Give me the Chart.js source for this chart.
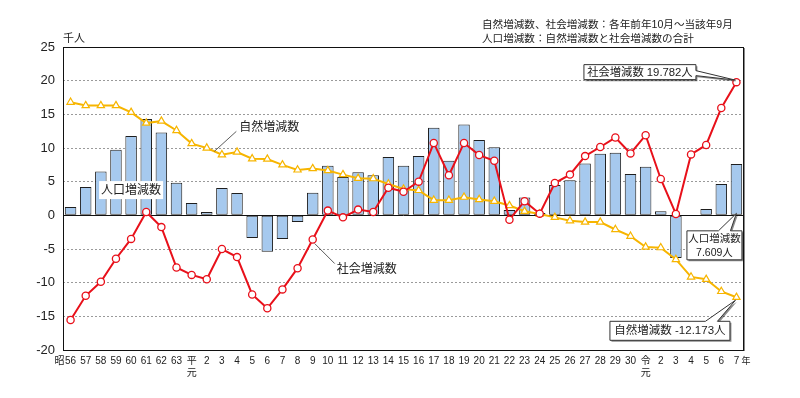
<!DOCTYPE html>
<html>
<head>
<meta charset="utf-8">
<script src="https://cdn.jsdelivr.net/npm/chart.js@4"></script>
<style>
html,body{margin:0;padding:0;background:#fff;}
#wrap{width:800px;height:398px;position:relative;}
</style>
</head>
<body>
<div id="wrap"><canvas id="c"></canvas></div>
<script>
const categories = ['56','57','58','59','60','61','62','63',['平','元'],
  '2','3','4','5','6','7','8','9','10','11','12','13','14','15','16','17','18','19','20',
  '21','22','23','24','25','26','27','28','29','30',['令','元'],'2','3','4','5','6','7'];

const totalChange = [1.25,4.2,6.5,9.75,11.8,14.3,12.3,4.85,1.85,0.5,
  4.05,3.3,-3.35,-5.4,-3.5,-1.0,3.35,7.35,5.7,6.4,
  5.95,8.65,7.35,8.8,13.0,8.1,13.5,11.2,10.1,0.8,
  2.65,0.35,4.5,5.2,7.7,9.15,9.3,6.15,7.2,0.6,
  -6.35,-0.1,0.95,4.65,7.609];

const naturalChange = [16.8,16.3,16.3,16.3,15.3,13.7,14.0,12.6,10.65,10.0,
  9.0,9.4,8.4,8.35,7.5,6.75,6.95,6.65,6.05,5.5,
  5.45,4.65,3.9,3.7,2.25,2.25,2.7,2.35,2.1,1.45,
  0.6,0.2,-0.3,-0.8,-1.0,-1.0,-2.1,-3.1,-4.7,-4.8,
  -6.55,-9.15,-9.5,-11.3,-12.173];

const socialChange = [-15.55,-11.95,-9.87,-6.45,-3.5,0.5,-1.75,-7.75,-8.85,-9.5,
  -5.0,-6.2,-11.75,-13.8,-11.0,-7.85,-3.6,0.7,-0.3,0.85,
  0.5,4.1,3.5,5.0,10.75,5.95,10.75,8.95,8.1,-0.65,
  2.1,0.25,4.8,6.05,8.8,10.15,11.55,9.2,11.9,5.4,
  0.2,9.05,10.45,15.95,19.782];

const yTicks = [-20,-15,-10,-5,0,5,10,15,20,25];

const FONT = "'Liberation Sans','Noto Sans CJK JP',sans-serif";
Chart.defaults.font.family = FONT;
Chart.defaults.color = '#222';

const RED = '#e8101a';
const ORANGE = '#f7b500';

function calloutPath(ctx, b, anchor, side, p1, p2) {
  ctx.beginPath();
  if (side === 'right') {
    ctx.moveTo(b.x, b.y);
    ctx.lineTo(b.x + b.w, b.y);
    ctx.lineTo(b.x + b.w, p1);
    ctx.lineTo(anchor.x, anchor.y);
    ctx.lineTo(b.x + b.w, p2);
    ctx.lineTo(b.x + b.w, b.y + b.h);
    ctx.lineTo(b.x, b.y + b.h);
  } else {
    ctx.moveTo(b.x, b.y);
    ctx.lineTo(p1, b.y);
    ctx.lineTo(anchor.x, anchor.y);
    ctx.lineTo(p2, b.y);
    ctx.lineTo(b.x + b.w, b.y);
    ctx.lineTo(b.x + b.w, b.y + b.h);
    ctx.lineTo(b.x, b.y + b.h);
  }
  ctx.closePath();
}

function drawCallout(ctx, b, anchor, side, p1, p2, lines, size) {
  ctx.save();
  ctx.shadowColor = 'rgba(0,0,0,0.45)';
  ctx.shadowOffsetX = 1.5;
  ctx.shadowOffsetY = 1.5;
  ctx.shadowBlur = 0;
  calloutPath(ctx, b, anchor, side, p1, p2);
  ctx.fillStyle = '#fff';
  ctx.fill();
  ctx.restore();
  ctx.save();
  calloutPath(ctx, b, anchor, side, p1, p2);
  ctx.strokeStyle = '#333';
  ctx.lineWidth = 1;
  ctx.stroke();
  ctx.fillStyle = '#222';
  ctx.font = size + 'px ' + FONT;
  ctx.textAlign = 'center';
  ctx.textBaseline = 'middle';
  const lh = 14;
  const cy = b.y + b.h / 2 - (lines.length - 1) * lh / 2;
  lines.forEach((t, i) => ctx.fillText(t, b.x + b.w / 2, cy + i * lh + 0.5));
  ctx.restore();
}

const framePlugin = {
  id: 'frame',
  beforeDatasetsDraw(chart) {
    const {ctx, chartArea: a, scales: {y}} = chart;
    ctx.save();
    ctx.strokeStyle = '#111';
    ctx.lineWidth = 1;
    const y0 = Math.round(y.getPixelForValue(0)) + 0.5;
    ctx.beginPath();
    ctx.moveTo(a.left, y0);
    ctx.lineTo(a.right, y0);
    ctx.stroke();
    ctx.restore();
  },
  afterDatasetsDraw(chart) {
    const {ctx, chartArea: a, scales: {x, y}} = chart;
    ctx.save();
    ctx.strokeStyle = '#111';
    ctx.lineWidth = 1;
    ctx.strokeRect(Math.round(a.left) + 0.5, Math.round(a.top) + 0.5,
      Math.round(a.right - a.left) - 1, Math.round(a.bottom - a.top));
    ctx.strokeStyle = '#888';
    ctx.beginPath();
    ctx.moveTo(Math.round(a.right) + 0.5, a.top + 1);
    ctx.lineTo(Math.round(a.right) + 0.5, a.bottom + 1);
    ctx.stroke();

    const n = categories.length - 1;
    ctx.fillStyle = '#222';
    ctx.textBaseline = 'middle';
    ctx.textAlign = 'left';
    ctx.font = '10.6px ' + FONT;
    ctx.fillText('自然増減数、社会増減数：各年前年10月～当該年9月', 482, 25);
    ctx.fillText('人口増減数：自然増減数と社会増減数の合計', 482, 39);
    ctx.font = '11px ' + FONT;
    ctx.fillText('千人', a.left, 39);

    ctx.font = '10px ' + FONT;
    ctx.textAlign = 'right';
    ctx.fillText('昭', x.getPixelForValue(0) - 6, 361);
    ctx.textAlign = 'left';
    ctx.font = '9px ' + FONT;
    ctx.fillText('年', x.getPixelForValue(n) + 5, 362);

    ctx.font = '12px ' + FONT;
    ctx.strokeStyle = '#333';
    ctx.lineWidth = 0.8;
    const nx = (x.getPixelForValue(9) + x.getPixelForValue(10)) / 2;
    const ny = (y.getPixelForValue(naturalChange[9]) + y.getPixelForValue(naturalChange[10])) / 2;
    ctx.beginPath(); ctx.moveTo(nx, ny); ctx.lineTo(nx + 22, ny - 20); ctx.stroke();
    ctx.textAlign = 'left';
    ctx.fillText('自然増減数', nx + 25, ny - 24);
    const sx = x.getPixelForValue(16), sy = y.getPixelForValue(socialChange[16]);
    ctx.beginPath(); ctx.moveTo(sx + 2, sy + 4); ctx.lineTo(sx + 22, sy + 24); ctx.stroke();
    ctx.fillText('社会増減数', sx + 24, sy + 30);
    const tx = x.getPixelForValue(4);
    const ty = y.getPixelForValue(3.75);
    ctx.fillStyle = '#fff';
    ctx.fillRect(tx - 32, ty - 9, 64, 18);
    ctx.fillStyle = '#222';
    ctx.textAlign = 'center';
    ctx.fillText('人口増減数', tx, ty + 0.5);

    const lx = x.getPixelForValue(n);
    const sA = {x: lx, y: y.getPixelForValue(socialChange[n])};
    drawCallout(ctx, {x: lx - 152.5, y: sA.y - 17.5, w: 112, h: 15}, {x: sA.x - 1, y: sA.y - 2}, 'right',
      sA.y - 11.5, sA.y - 6.5, ['社会増減数 19.782人'], 11.3);
    const tA = {x: lx, y: y.getPixelForValue(0) - 2};
    drawCallout(ctx, {x: lx - 49.5, y: tA.y + 17.5, w: 55, h: 29}, tA, 'top',
      lx - 18, lx - 6, ['人口増減数', '7.609人'], 10.5);
    const nA = {x: lx - 1, y: y.getPixelForValue(naturalChange[n]) + 3};
    drawCallout(ctx, {x: lx - 126.5, y: nA.y + 21, w: 120, h: 19}, nA, 'top',
      lx - 31, lx - 19, ['自然増減数 -12.173人'], 11.5);
    ctx.restore();
  }
};

new Chart(document.getElementById('c'), {
  data: {
    labels: categories,
    datasets: [
      {
        type: 'line', label: '社会増減数', data: socialChange, order: 1,
        borderColor: RED, borderWidth: 2, pointStyle: 'circle', pointRadius: 3.6,
        pointBorderWidth: 1.3, pointBackgroundColor: '#fff', pointBorderColor: RED,
        tension: 0
      },
      {
        type: 'line', label: '自然増減数', data: naturalChange, order: 2,
        borderColor: ORANGE, borderWidth: 2, pointStyle: 'triangle', pointRadius: 4.2,
        pointBorderWidth: 1.2, pointBackgroundColor: '#fff', pointBorderColor: ORANGE,
        tension: 0
      },
      {
        type: 'bar', label: '人口増減数', data: totalChange, order: 3,
        backgroundColor: '#a6c9ee', borderColor: '#1e1e1e', borderWidth: 1,
        barPercentage: 0.76, categoryPercentage: 1.0, borderSkipped: false
      }
    ]
  },
  options: {
    responsive: true,
    maintainAspectRatio: false,
    animation: false,
    layout: {padding: {left: 0, right: 56, top: 47, bottom: 0}},
    plugins: {legend: {display: false}, tooltip: {enabled: false}, title: {display: false}},
    scales: {
      x: {
        type: 'category', offset: true,
        grid: {display: false, drawTicks: false},
        border: {display: false},
        ticks: {autoSkip: false, maxRotation: 0, minRotation: 0, padding: 5,
          font: {size: 10, lineHeight: 1.2}, color: '#222'},
        afterFit(s) { s.height = 48; }
      },
      y: {
        type: 'linear', min: yTicks[0], max: yTicks[yTicks.length - 1],
        afterBuildTicks(s) { s.ticks = yTicks.map(v => ({value: v})); },
        grid: {drawTicks: false, lineWidth: 1,
          color: c => (c.tick && c.tick.value === 0) ? 'rgba(0,0,0,0)' : '#9a9a9a'},
        border: {display: false, dash: [2, 2]},
        ticks: {padding: 8, font: {size: 13}, color: '#222'},
        afterFit(s) { s.width = 63; }
      }
    }
  },
  plugins: [framePlugin]
});
</script>
</body>
</html>
